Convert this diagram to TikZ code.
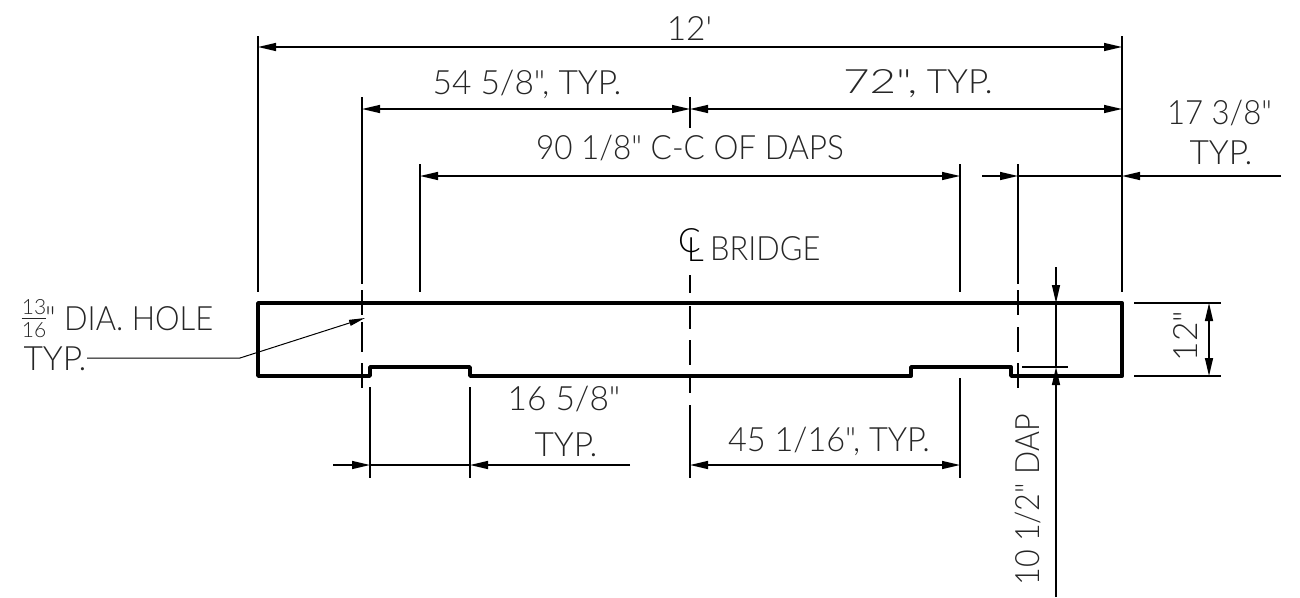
\documentclass[tikz,border=0pt]{standalone}
\usepackage{fontspec}
\setmainfont{Lato Light}[Ligatures=TeXOff]
\usetikzlibrary{arrows.meta}
\tikzset{
  lbl/.style={inner sep=0pt,font=\fontsize{33.5}{33.5}\selectfont,text=black!85},
  small lbl/.style={inner sep=0pt,font=\fontsize{21}{21}\selectfont,text=black!85},
  ext/.style={line width=1.5pt},
  dim/.style={line width=1.4pt},
  thinline/.style={line width=1.1pt},
  both tips/.style={dim,{Triangle[length=18,width=8]}-{Triangle[length=18,width=8]}},
  end tip/.style={dim,-{Triangle[length=18,width=8]}},
}
\begin{document}
\begin{tikzpicture}[x=1pt,y=-1pt]
\useasboundingbox (0,0) rectangle (1300,597);
% beam
\draw[line width=3.8pt,line join=round] (258,303) -- (1122,303) -- (1122,376) -- (1011,376) -- (1011,367) -- (911,367) -- (911,376) -- (470,376) -- (470,367) -- (370,367) -- (370,376) -- (258,376) -- cycle;
% extension lines
\foreach \x/\a/\b in {258/36/292,1122/36/292,362/97/284,420/164/292,960/164/292,1018/164/284,690/97/128,690/405/478,370/387/478,470/387/478,960/378/478}
  \draw[ext] (\x,\a) -- (\x,\b);
% centre and hole dashes
\foreach \x/\a/\b in {690/275/293,690/306/329,690/340/365,690/376/393,362/290/315,362/322/352,362/363/388,1018/290/315,1018/327/352,1018/363/388}
  \draw[thinline] (\x,\a) -- (\x,\b);
% horizontal extension lines
\draw[ext] (1134,303) -- (1221,303);
\draw[ext] (1134,376) -- (1221,376);
\draw[ext] (1022,367) -- (1068,367);
% dimension points
\coordinate (d12a) at (258,47); \coordinate (d12b) at (1122,47);
\coordinate (d54a) at (362,109); \coordinate (d54b) at (690,109); \coordinate (d72b) at (1122,109);
\coordinate (d90a) at (420,176); \coordinate (d90b) at (960,176);
\coordinate (d17a) at (982,176); \coordinate (d17b) at (1018,176); \coordinate (d17c) at (1122,176); \coordinate (d17d) at (1281,176);
\coordinate (d16a) at (333,465); \coordinate (d16b) at (370,465); \coordinate (d16c) at (470,465); \coordinate (d16d) at (630,465);
\coordinate (d45a) at (690,465); \coordinate (d45b) at (960,465);
\coordinate (v12a) at (1209,303); \coordinate (v12b) at (1209,376);
\coordinate (dapa) at (1056,267); \coordinate (dapb) at (1056,303); \coordinate (dapc) at (1056,367); \coordinate (dapd) at (1056,597);
\coordinate (lead0) at (87,358); \coordinate (lead1) at (240,358); \coordinate (lead2) at (365,318);
% dimensions
\draw[both tips] (d12a) -- (d12b);
\draw[both tips] (d54a) -- (d54b);
\draw[both tips] (d54b) -- (d72b);
\draw[both tips] (d90a) -- (d90b);
\draw[end tip] (d17a) -- (d17b);
\draw[dim] (d17b) -- (d17c);
\draw[end tip] (d17d) -- (d17c);
\draw[end tip] (d16a) -- (d16b);
\draw[dim] (d16b) -- (d16c);
\draw[end tip] (d16d) -- (d16c);
\draw[both tips] (d45a) -- (d45b);
\draw[both tips] (v12a) -- (v12b);
\draw[end tip] (dapa) -- (dapb);
\draw[dim] (dapb) -- (dapc);
\draw[end tip] (dapd) -- (dapc);
\draw[line width=1pt,-{Triangle[length=16,width=6]}] (lead0) -- (lead1) -- (lead2);
% texts
\node[lbl] (t12) at (689.5,29) {12'};
\node[lbl] (t54) at (527,84) {54 5/8", TYP.};
\node[lbl,xscale=1.05] (t72) at (918,84) {\scalebox{1.3}[1]{72",} TYP.};
\node[lbl,xscale=.94] (t90) at (690,148) {90 1/8" C-C OF DAPS};
\node[lbl,xscale=.93] (t17) at (1219.5,113) {17 3/8"};
\node[lbl] (t17t) at (1221,153) {TYP.};
\node[lbl,anchor=west,xscale=.92] (tbr) at (710,249) {BRIDGE};
\node[lbl,anchor=west,text=black] (tcl) at (678,245) {C\kern-14pt\raisebox{-9pt}{L}};
\node[lbl,anchor=west,xscale=.925] (tdia) at (45,319) {" DIA. HOLE};
\node[small lbl] (t13) at (34,307) {13};
\node[small lbl] (t16b) at (34,330) {16};
\draw[line width=0.9pt,black!85] (t16b.north west |- 0,318.5) -- (t16b.north east |- 0,318.5);
\node[lbl] (ttyp) at (55,359) {TYP.};
\node[lbl] (t165) at (564,399) {16 5/8"};
\node[lbl] (t165t) at (566,445) {TYP.};
\node[lbl,xscale=.97] (t45) at (829,441) {45 1/16", TYP.};
\node[lbl,rotate=90] (tv12) at (1185,336) {12"};
\node[lbl,rotate=90,xscale=.91] (tdap) at (1028,500) {10 1/2" DAP};
\end{tikzpicture}
\end{document}
